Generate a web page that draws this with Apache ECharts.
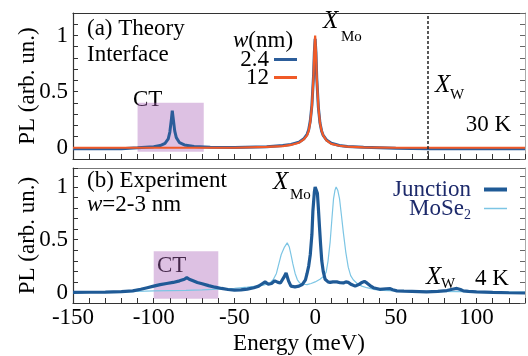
<!DOCTYPE html>
<html>
<head>
<meta charset="utf-8">
<script src="https://cdn.jsdelivr.net/npm/echarts@6/dist/echarts.min.js"></script>
<style>
  html, body { margin: 0; padding: 0; background: #fff; }
  #chart { width: 528px; height: 356px; }
</style>
</head>
<body>
<div id="chart"></div>
<script>
// panel (a): theory, energies in meV
const theoryE = [-150, -120, -110, -100, -96, -93, -91, -90, -89, -88.5, -88, -87, -86, -84, -81, -75, -65, -50, -30, -20, -15, -10, -7, -5, -4, -3, -2, -1, -0.5, 0, 0.5, 1, 2, 3, 4, 5, 7, 10, 15, 20, 30, 50, 70, 100, 130];
const theory24 = [-0.008, -0.008, 0, 0.01, 0.02, 0.04, 0.08, 0.14, 0.26, 0.33, 0.27, 0.15, 0.09, 0.045, 0.025, 0.012, 0.005, 0.003, 0.01, 0.02, 0.03, 0.05, 0.08, 0.12, 0.16, 0.24, 0.38, 0.64, 0.85, 0.97, 0.85, 0.62, 0.36, 0.22, 0.15, 0.11, 0.07, 0.04, 0.02, 0.012, 0.005, -0.005, -0.008, -0.008, -0.008];
const theory12 = [0, 0, 0, 0, 0, 0, 0, 0, 0, 0, 0, 0, 0, 0, 0, 0, 0, 0, 0.008, 0.015, 0.025, 0.045, 0.075, 0.11, 0.15, 0.23, 0.37, 0.64, 0.86, 1.0, 0.86, 0.63, 0.36, 0.22, 0.15, 0.11, 0.065, 0.035, 0.018, 0.01, 0.004, 0, 0, 0, 0];

// panel (b): experiment
const junctionE = [-150, -140, -130, -120, -113, -108, -104, -100, -96, -92, -88, -84, -81, -79.5, -78, -76, -73, -70, -66, -62, -58, -54, -50, -46, -42, -38, -35, -33, -31, -29, -27, -25, -23, -21.5, -19.5, -18, -16.5, -15, -12.5, -10, -8, -6, -5, -4, -3, -2, -1.4, -0.5, 0, 0.7, 1.4, 2, 2.7, 3.4, 4.1, 5, 6.2, 8, 9.3, 11, 13.4, 15.5, 17.5, 19, 20.5, 22.5, 24.8, 27, 29, 30.5, 32, 34, 36, 40, 44, 46.5, 48, 50.6, 55, 60, 69, 76, 81.6, 85, 87.8, 90, 91.8, 95, 100, 110, 120, 130];
const junction = [0, 0.002, 0.004, 0.008, 0.015, 0.03, 0.045, 0.06, 0.074, 0.085, 0.095, 0.11, 0.125, 0.14, 0.125, 0.113, 0.095, 0.083, 0.065, 0.05, 0.038, 0.028, 0.022, 0.024, 0.032, 0.045, 0.06, 0.08, 0.1, 0.078, 0.085, 0.11, 0.095, 0.09, 0.14, 0.185, 0.11, 0.06, 0.053, 0.06, 0.075, 0.12, 0.18, 0.25, 0.36, 0.55, 0.77, 0.95, 1.0, 0.99, 0.94, 0.8, 0.62, 0.45, 0.3, 0.2, 0.125, 0.1, 0.095, 0.1, 0.1, 0.092, 0.09, 0.1, 0.095, 0.075, 0.06, 0.075, 0.095, 0.105, 0.09, 0.065, 0.045, 0.03, 0.035, 0.036, 0.025, 0.015, 0.012, 0.01, 0.006, 0.01, 0.018, 0.03, 0.038, 0.028, 0.015, 0.01, 0.006, 0, -0.003, -0.005];
const moseE = [-150, -130, -110, -100, -90, -80, -70, -60, -50, -42, -36, -32, -28, -26, -24, -22.5, -21, -19, -17.3, -16, -15, -13.8, -12.4, -11, -9.6, -7, -5, -2.5, 0, 3, 5, 6.8, 8, 9.3, 10.5, 11.4, 12.3, 13, 14, 15.1, 16.3, 17.5, 19, 20.5, 22, 23.6, 26, 28.9, 32, 36, 42, 50, 70, 90, 110, 130];
const mose = [-0.002, 0.003, 0.01, 0.015, 0.018, 0.02, 0.025, 0.032, 0.04, 0.05, 0.06, 0.07, 0.09, 0.12, 0.18, 0.27, 0.36, 0.43, 0.47, 0.43, 0.36, 0.27, 0.18, 0.12, 0.09, 0.078, 0.074, 0.085, 0.1, 0.125, 0.15, 0.19, 0.3, 0.48, 0.72, 0.89, 0.97, 1.0, 0.97, 0.89, 0.73, 0.565, 0.38, 0.24, 0.16, 0.12, 0.085, 0.06, 0.045, 0.03, 0.02, 0.015, 0.01, 0.008, 0.005, 0.003];

// shaded CT windows [xFrom, xTo, yFrom, yTo] and X_W marker
const ctBoxA = [-110, -69, -0.035, 0.4];
const ctBoxB = [-100, -60, -0.06, 0.39];
const xwTheory = 70;

const pair = (xs, ys) => xs.map((x, i) => [x, ys[i]]);
const serif = "Liberation Serif";
const navy = "#1d2a6b";

const chart = echarts.init(document.getElementById("chart"));

const yTickLabel = v => {
  const r = Math.round(v * 10) / 10;
  return r === 0 || r === 0.5 || r === 1 ? String(r) : "";
};
const xTickLabel = v => (Math.round(v) % 50 === 0 ? String(Math.round(v)) : "");

const xBase = idx => ({
  type: "value", gridIndex: idx, min: -150, max: 130, interval: 10,
  axisLine: { onZero: false, lineStyle: { color: "#333", width: 1.2 } },
  axisTick: { inside: true, length: 5, lineStyle: { color: "#333" } },
  splitLine: { show: false },
});
const yBase = (idx, max) => ({
  type: "value", gridIndex: idx, min: -0.1, max: max, interval: 0.1,
  axisLine: { show: true, onZero: false, lineStyle: { color: "#333", width: 1.2 } },
  axisTick: { show: true, inside: true, length: 5, lineStyle: { color: "#333" } },
  splitLine: { show: false },
});
const frameTop = (idx, color) => ({
  type: "value", gridIndex: idx, position: "top", min: -150, max: 130,
  axisLine: { onZero: false, lineStyle: { color: color, width: 1.2 } },
  axisTick: { show: false }, axisLabel: { show: false }, splitLine: { show: false },
});
const frameRight = (idx, max) => Object.assign(yBase(idx, max), {
  position: "right", axisLabel: { show: false },
  axisLine: { show: true, onZero: false, lineStyle: { color: "#aaa" } },
  axisTick: { inside: true, length: 5, lineStyle: { color: "#666" } },
});

const sub = (t, x, y, size) => ({
  type: "text", x: x, y: y,
  style: { text: t, font: (size || 15) + "px " + serif, fill: "#000", textAlign: "left", textVerticalAlign: "middle" },
});
const label = (t, x, y, opts) => ({
  type: "text", x: x, y: y,
  style: Object.assign({ text: t, fontSize: 23, fontFamily: serif, fill: "#000", textAlign: "left", textVerticalAlign: "middle",
    rich: { i: { fontStyle: "italic", fontSize: 23, fontFamily: serif } } }, opts || {}),
});
const bigX = (x, y) => label("{i|X}", x, y, { rich: { i: { fontStyle: "italic", fontSize: 25, fontFamily: serif } } });

const legendCommon = {
  orient: "vertical", align: "right", padding: 0, itemGap: 0, itemWidth: 23, icon: "rect",
  textStyle: { fontSize: 23, fontFamily: serif, color: "#000" },
};
const axisText = { fontSize: 23, fontFamily: serif, color: "#000" };
const yName = {
  name: "PL (arb. un.)", nameLocation: "middle", nameGap: 34, nameMoveOverlap: false, nameTextStyle: axisText,
};

chart.setOption({
  animation: false,
  backgroundColor: "#fff",
  grid: [
    { left: 73, right: 3, top: 13, height: 146 },
    { left: 73, right: 3, top: 168, height: 143.5 },
  ],
  xAxis: [
    Object.assign(xBase(0), { axisLabel: { show: false } }),
    Object.assign(xBase(1), {
      axisLabel: Object.assign({ formatter: xTickLabel, margin: 3 }, axisText),
      name: "Energy (meV)", nameLocation: "middle", nameGap: 29, nameMoveOverlap: false, nameTextStyle: axisText,
    }),
    frameTop(0, "#333"),
    frameTop(1, "#777"),
  ],
  yAxis: [
    Object.assign(yBase(0, 1.2), { axisLabel: Object.assign({ formatter: yTickLabel, margin: 5 }, axisText) }, yName),
    Object.assign(yBase(1, 1.18), { axisLabel: Object.assign({ formatter: yTickLabel, margin: 5 }, axisText) }, yName),
    frameRight(0, 1.2),
    frameRight(1, 1.18),
  ],
  legend: [
    Object.assign({}, legendCommon, { data: ["2.4"], right: 231, top: 48, itemHeight: 3 }),
    Object.assign({}, legendCommon, { data: ["12"], right: 231, top: 66, itemHeight: 3 }),
    Object.assign({}, legendCommon, { data: ["Junction"], right: 21, top: 178, itemHeight: 4,
      textStyle: { fontSize: 23, fontFamily: serif, color: navy, padding: [0, 8, 0, 0] } }),
    Object.assign({}, legendCommon, { data: ["MoSe2"], right: 21, top: 197, itemHeight: 1.5,
      formatter: () => "{a|MoSe}{b|2}",
      textStyle: { color: navy, padding: [0, 8, 0, 0], rich: {
        a: { fontSize: 23, fontFamily: serif, color: navy },
        b: { fontSize: 14, fontFamily: serif, color: navy, padding: [14, 0, 0, 0] } } } }),
  ],
  series: [
    {
      name: "2.4", type: "line", xAxisIndex: 0, yAxisIndex: 0, data: pair(theoryE, theory24),
      showSymbol: false, z: 2, color: "#2c5d9a", lineStyle: { width: 3, color: "#2c5d9a" },
    },
    {
      name: "12", type: "line", xAxisIndex: 0, yAxisIndex: 0, data: pair(theoryE, theory12),
      showSymbol: false, z: 3, color: "#f05a28", lineStyle: { width: 2.2, color: "#f05a28" },
    },
    {
      name: "MoSe2", type: "line", xAxisIndex: 1, yAxisIndex: 1, data: pair(moseE, mose),
      showSymbol: false, z: 2, color: "#7cc5e4", lineStyle: { width: 1.2, color: "#7cc5e4" },
    },
    {
      name: "Junction", type: "line", xAxisIndex: 1, yAxisIndex: 1, data: pair(junctionE, junction),
      showSymbol: false, z: 3, color: "#1f5a96", lineStyle: { width: 3.2, color: "#1f5a96" },
    },
    {
      type: "line", xAxisIndex: 0, yAxisIndex: 0, data: [], z: 5, silent: true,
      markArea: { silent: true, itemStyle: { color: "rgba(170,100,185,0.4)" },
        data: [[{ xAxis: ctBoxA[0], yAxis: ctBoxA[2] }, { xAxis: ctBoxA[1], yAxis: ctBoxA[3] }]] },
      markLine: { silent: true, symbol: "none", label: { show: false },
        lineStyle: { type: [3, 2], color: "#222", width: 1.5 },
        data: [{ xAxis: xwTheory }] },
    },
    {
      type: "line", xAxisIndex: 1, yAxisIndex: 1, data: [], z: 5, silent: true,
      markArea: { silent: true, itemStyle: { color: "rgba(170,100,185,0.4)" },
        data: [[{ xAxis: ctBoxB[0], yAxis: ctBoxB[2] }, { xAxis: ctBoxB[1], yAxis: ctBoxB[3] }]] },
    },
  ],
  graphic: [
    label("(a) Theory", 87, 29),
    label("Interface", 87, 55),
    label("CT", 133, 100),
    label("{i|w}(nm)", 233, 41),
    bigX(323, 21), sub("Mo", 341, 37),
    bigX(435, 85), sub("W", 450, 95),
    label("30 K", 511, 125, { textAlign: "right" }),
    label("(b) Experiment", 87, 181),
    label("{i|w}=2-3 nm", 87, 205),
    label("CT", 157, 266),
    bigX(273, 182), sub("Mo", 290, 195),
    bigX(426, 277), sub("W", 441, 284),
    label("4 K", 475, 279),
  ],
});
</script>
</body>
</html>
